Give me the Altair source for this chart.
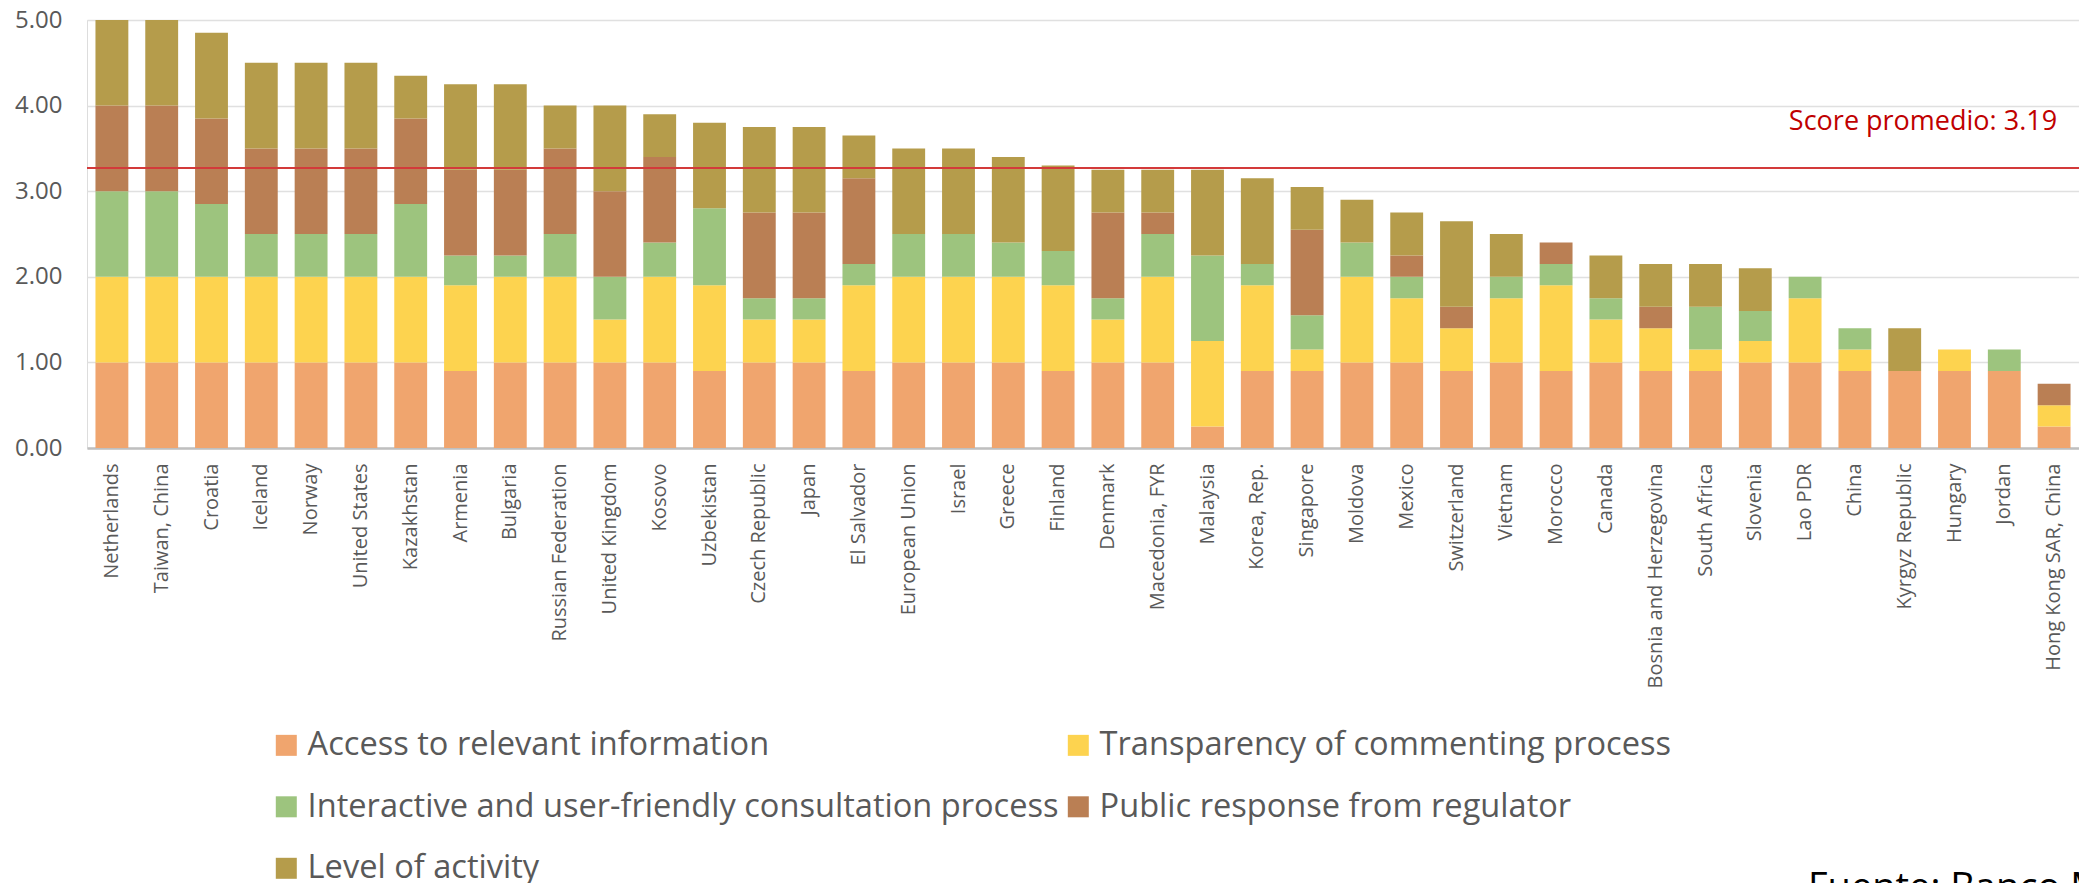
import altair as alt
import pandas as pd

countries = [
    "Netherlands", "Taiwan, China", "Croatia", "Iceland", "Norway", "United States",
    "Kazakhstan", "Armenia", "Bulgaria", "Russian Federation", "United Kingdom", "Kosovo",
    "Uzbekistan", "Czech Republic", "Japan", "El Salvador", "European Union", "Israel",
    "Greece", "Finland", "Denmark", "Macedonia, FYR", "Malaysia", "Korea, Rep.",
    "Singapore", "Moldova", "Mexico", "Switzerland", "Vietnam", "Morocco", "Canada",
    "Bosnia and Herzegovina", "South Africa", "Slovenia", "Lao PDR", "China",
    "Kyrgyz Republic", "Hungary", "Jordan", "Hong Kong SAR, China",
]
access = [1, 1, 1, 1, 1, 1, 1, 0.9, 1, 1, 1, 1, 0.9, 1, 1, 0.9, 1, 1, 1, 0.9,
          1, 1, 0.25, 0.9, 0.9, 1, 1, 0.9, 1, 0.9, 1, 0.9, 0.9, 1, 1, 0.9, 0.9, 0.9, 0.9, 0.25]
transparency = [1, 1, 1, 1, 1, 1, 1, 1, 1, 1, 0.5, 1, 1, 0.5, 0.5, 1, 1, 1, 1, 1,
                0.5, 1, 1, 1, 0.25, 1, 0.75, 0.5, 0.75, 1, 0.5, 0.5, 0.25, 0.25, 0.75, 0.25, 0, 0.25, 0, 0.25]
interactive = [1, 1, 0.85, 0.5, 0.5, 0.5, 0.85, 0.35, 0.25, 0.5, 0.5, 0.4, 0.9, 0.25, 0.25, 0.25, 0.5, 0.5, 0.4, 0.4,
               0.25, 0.5, 1, 0.25, 0.4, 0.4, 0.25, 0, 0.25, 0.25, 0.25, 0, 0.5, 0.35, 0.25, 0.25, 0, 0, 0.25, 0]
public_response = [1, 1, 1, 1, 1, 1, 1, 1, 1, 1, 1, 1, 0, 1, 1, 1, 0, 0, 0, 0,
                   1, 0.25, 0, 0, 1, 0, 0.25, 0.25, 0, 0.25, 0, 0.25, 0, 0, 0, 0, 0, 0, 0, 0.25]
level_activity = [1, 1, 1, 1, 1, 1, 0.5, 1, 1, 0.5, 1, 0.5, 1, 1, 1, 0.5, 1, 1, 1, 1,
                  0.5, 0.5, 1, 1, 0.5, 0.5, 0.5, 1, 0.5, 0, 0.5, 0.5, 0.5, 0.5, 0, 0, 0.5, 0, 0, 0]

series_names = [
    "Access to relevant information",
    "Transparency of commenting process",
    "Interactive and user-friendly consultation process",
    "Public response from regulator",
    "Level of activity",
]
series_colors = ["#F0A56E", "#FDD34F", "#9DC47E", "#BA7F54", "#B59C4B"]
series_values = [access, transparency, interactive, public_response, level_activity]

avg_line_value = 3.27
avg_label = "Score promedio: 3.19"
source_text = "Fuente: Banco Mundial"

rows = []
for k, (name, vals) in enumerate(zip(series_names, series_values)):
    for c, v in zip(countries, vals):
        rows.append({"country": c, "series": name, "value": v, "order": k})
df = pd.DataFrame(rows)

FONT = "Open Sans"
GREY = "#595959"

x_enc = alt.X(
    "country:N", sort=countries,
    scale=alt.Scale(paddingInner=0.34, paddingOuter=0.17),
    axis=alt.Axis(labelAngle=-90, labelFontSize=20, labelFont=FONT, labelColor=GREY,
                  ticks=False, domain=True, domainColor="#BFBFBF", domainWidth=2.5,
                  labelPadding=15, title=None, labelLimit=400, grid=False),
)

bars = alt.Chart(df).mark_bar().encode(
    x=x_enc,
    y=alt.Y("value:Q", stack="zero",
            scale=alt.Scale(domain=[0, 5], nice=False),
            axis=alt.Axis(values=[0, 1, 2, 3, 4, 5], format=".2f", labelFontSize=24,
                          labelFont=FONT, labelColor=GREY, ticks=False, domain=False,
                          grid=True, gridColor="#E0E0E0", gridWidth=1.5,
                          labelPadding=25, title=None)),
    color=alt.Color("series:N",
                    scale=alt.Scale(domain=series_names, range=series_colors),
                    legend=alt.Legend(title=None, orient="none", legendX=183, legendY=709,
                                      direction="horizontal", columns=2,
                                      labelFontSize=32.6, labelFont=FONT,
                                      labelColor=GREY, symbolType="square", symbolSize=441,
                                      symbolStrokeWidth=0, symbolOpacity=1, labelOffset=5,
                                      rowPadding=28.5, columnPadding=3, labelLimit=1000,
                                      padding=0)),
    order=alt.Order("order:Q"),
)

rule = alt.Chart(pd.DataFrame({"y": [avg_line_value]})).mark_rule(
    color="#D33A3A", strokeWidth=2
).encode(y="y:Q")

label = alt.Chart(pd.DataFrame({"country": [countries[-1]], "y": [avg_line_value],
                                "label": [avg_label]})).mark_text(
    align="right", baseline="alphabetic", dx=3, dy=-38, fontSize=27, font=FONT,
    color="#C00000"
).encode(x=alt.X("country:N", sort=countries), y="y:Q", text="label:N")

source = alt.Chart(pd.DataFrame({"t": [source_text]})).mark_text(
    align="left", baseline="alphabetic", fontSize=38, font=FONT, color="#000000"
).encode(x=alt.value(1721), y=alt.value(880), text="t:N")

chart = alt.layer(bars, rule, label, source).properties(
    width=1992, height=428,
    padding={"left": 79, "top": 12, "right": 0, "bottom": 435},
    autosize=alt.AutoSizeParams(type="none"),
).configure_view(stroke=None).configure(background="white")

chart.save("out.html", embed_options={"renderer": "svg", "actions": False})
